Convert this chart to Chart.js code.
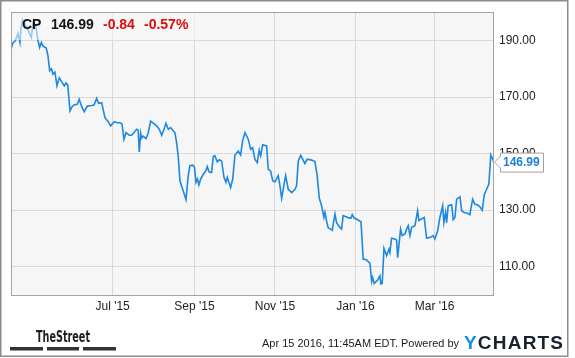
<!DOCTYPE html>
<html>
<head>
<meta charset="utf-8">
<script src="https://cdn.jsdelivr.net/npm/chart.js@4.4.1/dist/chart.umd.min.js"></script>
<style>
  html, body { margin: 0; padding: 0; background: #fff; }
  canvas { display: block; }
</style>
</head>
<body>
<canvas id="c" width="575" height="358"></canvas>
<script>
// ---- Data (x = calendar days since Apr 15 2015) ----
const days = [
  0,1.5,3.3,5.3,6.8,7.6,8.7,10.6,12.5,15.4,
  16.7,18.6,20.5,21.7,23.0,24.2,26.7,28.0,29.3,30.7,
  31.8,33.3,34.8,36.6,38.6,40.4,41.7,43.0,44.7,46.2,
  47.7,50.2,51.7,53.6,55.5,57.8,61.0,62.9,64.9,66.3,
  68.7,71.2,73.7,75.5,78.3,80.5,82.6,84.1,85.6,87.1,
  89.6,91.4,93.2,95.2,96.4,97.2,98.3,99.0,100.2,102.3,
  103.8,105.8,107.8,110.4,112.4,114.2,115.9,117.4,119.2,121.0,
  123.0,124.2,125.5,126.7,128.0,130.1,132.6,134.3,135.6,137.7,
  139.0,140.2,141.3,142.4,143.7,145.7,147.7,148.7,150.2,152.0,
  153.3,154.5,156.3,157.8,159.6,161.4,162.9,163.9,166.4,168.0,
  169.7,172.2,174.0,175.5,177.3,179.8,181.6,183.1,184.8,186.6,
  188.1,189.2,190.7,193.7,194.9,196.7,198.3,200.0,202.5,203.8,
  205.1,206.3,208.1,210.1,212.7,215.2,216.4,217.7,219.5,221.4,
  222.7,224.5,227.8,230.3,232.0,233.6,235.4,237.1,237.9,239.2,
  240.4,242.2,243.4,245.5,246.7,249.2,250.5,251.7,254.3,256.3,
  257.6,258.6,260.1,263.1,265.2,266.9,269.5,272.0,273.3,274.0,
  275.2,277.8,279.5,280.3,281.3,282.6,284.6,286.4,287.1,288.4,
  290.9,292.2,293.0,295.2,296.4,298.5,299.8,301.0,302.3,303.6,
  306.1,308.1,309.1,311.1,313.1,314.9,317.4,319.9,321.2,323.3,
  325.0,327.1,328.0,329.3,330.1,331.3,333.9,335.1,336.4,337.7,
  340.2,341.5,343.4,346.0,347.7,349.8,351.5,353.5,355.3,357.1,
  358.6,360.4,362.1,363.6,366
];
const prices = [
  187.0,189.2,189.9,192.5,189.3,194.4,197.2,195.6,194.0,191.1,
  196.3,195.5,189.9,187.5,189.3,188.0,187.3,184.6,179.3,180.0,
  178.1,178.8,174.0,176.8,175.3,173.9,175.0,174.2,165.1,166.5,
  167.2,167.4,169.2,166.6,164.8,166.8,167.0,167.2,169.5,167.8,
  168.0,162.7,161.3,159.8,161.3,160.9,160.9,160.5,155.1,157.4,
  156.5,156.5,157.5,158.6,158.3,150.6,157.2,155.5,156.2,155.3,
  157.0,161.5,160.8,159.8,158.6,156.5,158.5,160.7,158.6,159.2,
  158.0,157.4,153.9,149.2,140.4,137.4,133.7,142.2,145.7,145.9,
  145.3,139.8,141.0,138.9,141.0,142.7,143.9,145.4,143.5,143.3,
  149.0,149.2,147.1,147.8,147.4,141.6,139.8,141.6,138.0,141.0,
  149.5,150.9,149.5,154.5,157.4,155.1,151.5,152.1,148.0,146.8,
  151.2,149.2,153.1,152.7,144.5,143.9,140.4,140.0,142.2,138.6,
  134.2,137.4,142.2,137.4,136.2,137.4,138.6,147.4,149.4,147.7,
  146.5,148.0,147.7,147.2,142.2,134.2,131.5,127.4,129.2,126.0,
  123.7,123.3,122.9,128.6,125.6,123.9,123.3,128.1,127.6,127.2,
  127.2,128.4,127.2,126.5,125.9,112.7,112.4,111.2,104.8,106.2,
  104.1,105.3,106.8,103.9,104.1,116.5,113.9,116.2,115.0,120.1,
  119.8,119.4,113.2,123.3,121.0,121.6,123.3,124.5,121.0,123.9,
  124.5,129.8,126.3,126.9,127.4,120.1,120.3,121.0,119.8,122.7,
  127.4,131.6,125.6,129.2,125.6,131.6,131.9,126.6,127.4,133.9,
  134.7,129.8,129.2,128.9,128.4,133.9,132.1,131.9,131.2,130.0,
  135.4,137.4,139.2,149.5,146.99
];
const xTickDays = [77, 139, 200, 261, 321];
const xTickLabels = ["Jul '15", "Sep '15", "Nov '15", "Jan '16", "Mar '16"];
const yTicks = [110, 130, 150, 170, 190];
const ticker = "CP";
const lastPrice = "146.99";
const change = "-0.84";
const changePct = "-0.57%";
const stamp = "Apr 15 2016, 11:45AM EDT. Powered by";

const FONT = "'Liberation Sans', Arial, Helvetica, sans-serif";
const points = days.map((d, i) => ({ x: d, y: prices[i] }));

const decor = {
  id: 'decor',
  beforeDraw(chart) {
    const { ctx, chartArea: a } = chart;
    ctx.save();
    ctx.fillStyle = '#fff';
    ctx.fillRect(0, 0, chart.width, chart.height);
    ctx.strokeStyle = '#8c8c8c';
    ctx.lineWidth = 1.5;
    ctx.strokeRect(0.75, 0.75, 567, 355.5);
    ctx.fillStyle = '#f6f6f6';
    ctx.fillRect(a.left, a.top, a.right - a.left, a.bottom - a.top);
    ctx.restore();
  },
  afterDatasetsDraw(chart) {
    const { ctx, chartArea: a, scales } = chart;
    ctx.save();
    // translucent header box
    ctx.fillStyle = 'rgba(248,248,248,0.55)';
    ctx.fillRect(a.left + 1, a.top + 1, 185, 27);
    // plot border
    ctx.strokeStyle = '#a3a3a3';
    ctx.lineWidth = 1;
    ctx.strokeRect(Math.round(a.left) + 0.5, Math.round(a.top) + 0.5,
                   Math.round(a.right - a.left) - 1, Math.round(a.bottom - a.top));
    // header text
    ctx.font = 'bold 14px ' + FONT;
    ctx.textBaseline = 'alphabetic';
    ctx.textAlign = 'left';
    ctx.fillStyle = '#111';
    ctx.fillText(ticker, 22, 29);
    ctx.fillText(lastPrice, 51, 29);
    ctx.fillStyle = '#dd0c0c';
    ctx.fillText(change, 103, 29);
    ctx.fillText(changePct, 144, 29);
    // last-price tag
    const py = scales.y.getPixelForValue(prices[prices.length - 1]);
    const tipX = a.right + 0.5;
    ctx.beginPath();
    ctx.moveTo(tipX, py);
    ctx.lineTo(500.5, py - 6);
    ctx.lineTo(500.5, py - 9);
    ctx.lineTo(543.5, py - 9);
    ctx.lineTo(543.5, py + 10);
    ctx.lineTo(500.5, py + 10);
    ctx.lineTo(500.5, py + 6);
    ctx.closePath();
    ctx.fillStyle = '#fff';
    ctx.fill();
    ctx.strokeStyle = '#a0a0a0';
    ctx.lineWidth = 1;
    ctx.stroke();
    ctx.font = 'bold 12px ' + FONT;
    ctx.fillStyle = '#1b80d2';
    ctx.textBaseline = 'middle';
    ctx.fillText(lastPrice, 503, py + 1);
    ctx.restore();
  },
  afterDraw(chart) {
    const { ctx } = chart;
    ctx.save();
    // TheStreet logo
    ctx.fillStyle = '#1e1e1e';
    ctx.font = "bold 16px 'Liberation Sans Narrow', 'DejaVu Sans Condensed', " + FONT;
    ctx.textBaseline = 'alphabetic';
    ctx.textAlign = 'left';
    ctx.fillText('TheStreet', 36, 342, 54);
    ctx.fillStyle = '#333';
    ctx.fillRect(10, 347, 33, 3.5);
    ctx.fillRect(47, 347, 32, 3.5);
    ctx.fillRect(83, 347, 33, 3.5);
    // timestamp
    ctx.font = '11px ' + FONT;
    ctx.fillStyle = '#1a1a1a';
    ctx.textAlign = 'right';
    ctx.fillText(stamp, 459, 347, 197);
    // YCHARTS logo
    ctx.textAlign = 'left';
    ctx.font = 'bold 19px ' + FONT;
    try { ctx.letterSpacing = '1.2px'; } catch (e) {}
    ctx.fillStyle = '#1590dd';
    ctx.fillText('Y', 464, 348.5);
    const yw = ctx.measureText('Y').width;
    ctx.fillStyle = '#18222e';
    ctx.fillText('CHARTS', 464 + yw, 348.5);
    ctx.restore();
  }
};

new Chart(document.getElementById('c'), {
  type: 'line',
  data: {
    datasets: [{
      data: points,
      borderColor: '#1e88e0',
      borderWidth: 1.6,
      pointRadius: 0,
      tension: 0,
      fill: false
    }]
  },
  options: {
    responsive: false,
    animation: false,
    devicePixelRatio: 1,
    layout: { padding: { left: 11, top: 11, right: 0, bottom: 0 } },
    plugins: { legend: { display: false }, tooltip: { enabled: false } },
    scales: {
      x: {
        type: 'linear',
        min: 0,
        max: 366,
        afterBuildTicks: s => { s.ticks = xTickDays.map(v => ({ value: v })); },
        afterFit: s => { s.height = 63; },
        border: { display: false },
        grid: { color: '#d9d9d9', lineWidth: 1, drawTicks: false },
        ticks: {
          autoSkip: false,
          maxRotation: 0,
          padding: 4,
          color: '#222',
          font: { family: FONT, size: 12 },
          callback: (v, i) => xTickLabels[i]
        }
      },
      y: {
        position: 'right',
        min: 100,
        max: 200,
        afterBuildTicks: s => { s.ticks = yTicks.map(v => ({ value: v })); },
        afterFit: s => { s.width = 81; },
        border: { display: false },
        grid: { color: '#d9d9d9', lineWidth: 1, drawTicks: false },
        ticks: {
          padding: 5,
          color: '#222',
          font: { family: FONT, size: 12 },
          callback: v => Number(v).toFixed(2)
        }
      }
    }
  },
  plugins: [decor]
});
</script>
</body>
</html>
